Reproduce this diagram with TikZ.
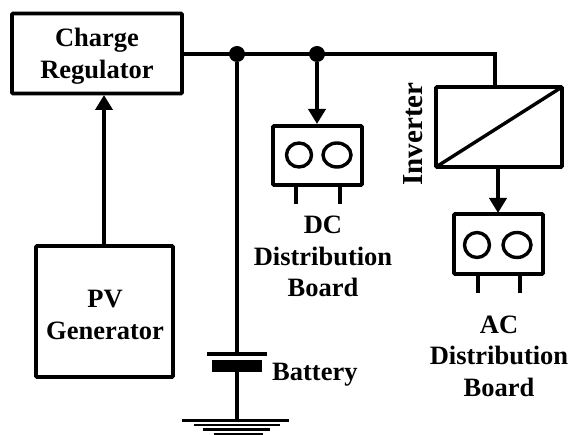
\documentclass[tikz,border=0pt]{standalone}
\usepackage{fontspec}
\setmainfont{Liberation Serif}
\usetikzlibrary{arrows.meta,shapes.geometric}
\tikzset{
  ln/.style={line width=3.8pt,line cap=butt,line join=miter},
  boxx/.style={draw,line width=3.8pt,rounded corners=1pt,outer sep=0pt},
  lbl/.style={font=\bfseries\fontsize{26.5}{31.5}\selectfont,align=center,inner sep=0pt},
  arr/.style={ln,-{Triangle[length=15pt,width=17pt]}},
  junction/.style={circle,fill=black,inner sep=0pt,minimum size=16pt},
  socket/.style={ellipse,draw,line width=3.4pt,inner sep=0pt,outer sep=0pt},
  gnd/.style={line width=2.6pt}
}
\begin{document}
\begin{tikzpicture}[x=1pt,y=-1pt]
\useasboundingbox (0,0) rectangle (570,435);
% boxes
\node[boxx,minimum width=170pt,minimum height=80pt,anchor=north west] (cr) at (12,13.5) {};
\node[boxx,minimum width=137pt,minimum height=131pt,anchor=north west] (pv) at (36,246) {};
\node[boxx,minimum width=126pt,minimum height=80pt,anchor=north west] (inv) at (436,87) {};
\node[boxx,minimum width=89pt,minimum height=59pt,anchor=north west] (dc) at (273,126) {};
\node[boxx,minimum width=89pt,minimum height=60pt,anchor=north west] (ac) at (454,214) {};
% junctions and bus
\coordinate (j1) at (237,54);
\coordinate (j2) at (317,54);
\coordinate (corner) at (495,54);
\coordinate (invtop) at (495,87);
\draw[ln] (cr.east |- j1) -- (corner) -- (invtop);
\node[junction] (dot1) at (j1) {};
\node[junction] (dot2) at (j2) {};
% arrows
\coordinate (pvtop) at (104,246);
\coordinate (crbot) at (104,95);
\draw[arr] (pvtop) -- (crbot);
\coordinate (dctop) at (317,124);
\draw[arr] (dot2) -- (dctop);
\coordinate (invbot) at (498,167);
\coordinate (actop) at (498,213);
\draw[arr] (invbot) -- (actop);
% inverter diagonal
\draw[line width=3.4pt] (inv.north east) -- (inv.south west);
% sockets
\node[socket,minimum width=25pt,minimum height=24pt] (s1) at (299,155) {};
\node[socket,minimum width=28pt,minimum height=24pt] (s2) at (337,155) {};
\node[socket,minimum width=25pt,minimum height=25pt] (s3) at (477,245) {};
\node[socket,minimum width=28pt,minimum height=25pt] (s4) at (517,245) {};
% legs
\coordinate (l1a) at (296,185); \coordinate (l1b) at (296,204);
\coordinate (l2a) at (340,185); \coordinate (l2b) at (340,204);
\coordinate (l3a) at (478,274); \coordinate (l3b) at (478,293);
\coordinate (l4a) at (520,274); \coordinate (l4b) at (520,293);
\draw[ln] (l1a) -- (l1b) (l2a) -- (l2b) (l3a) -- (l3b) (l4a) -- (l4b);
% battery
\coordinate (plate) at (237,354);
\coordinate (gt) at (237,420.5);
\node[fill=black,minimum width=50pt,minimum height=12pt,inner sep=0pt] (cell) at (237,366) {};
\draw[ln] (dot1) -- (plate);
\draw[ln] (cell) -- (gt);
\draw[line width=3.6pt] (207,354) -- (267,354);
\draw[gnd] (182,420.5) -- (289,420.5);
\draw[gnd] (194,425) -- (280,425);
\draw[gnd] (203,429.5) -- (270,429.5);
\draw[gnd] (214,434) -- (263,434);
% labels
\node[lbl] (tcr) at (97,56) {Charge\\Regulator};
\node[lbl] (tpv) at (105,315) {PV\\Generator};
\node[lbl] (tdc) at (323,256.5) {DC\\Distribution\\Board};
\node[lbl] (tac) at (499,356) {AC\\Distribution\\Board};
\node[lbl,anchor=west] (tbat) at (272,375) {Battery};
\node[lbl,font=\bfseries\fontsize{29}{32}\selectfont,rotate=90] (tinv) at (413,134) {Inverter};
\end{tikzpicture}
\end{document}
